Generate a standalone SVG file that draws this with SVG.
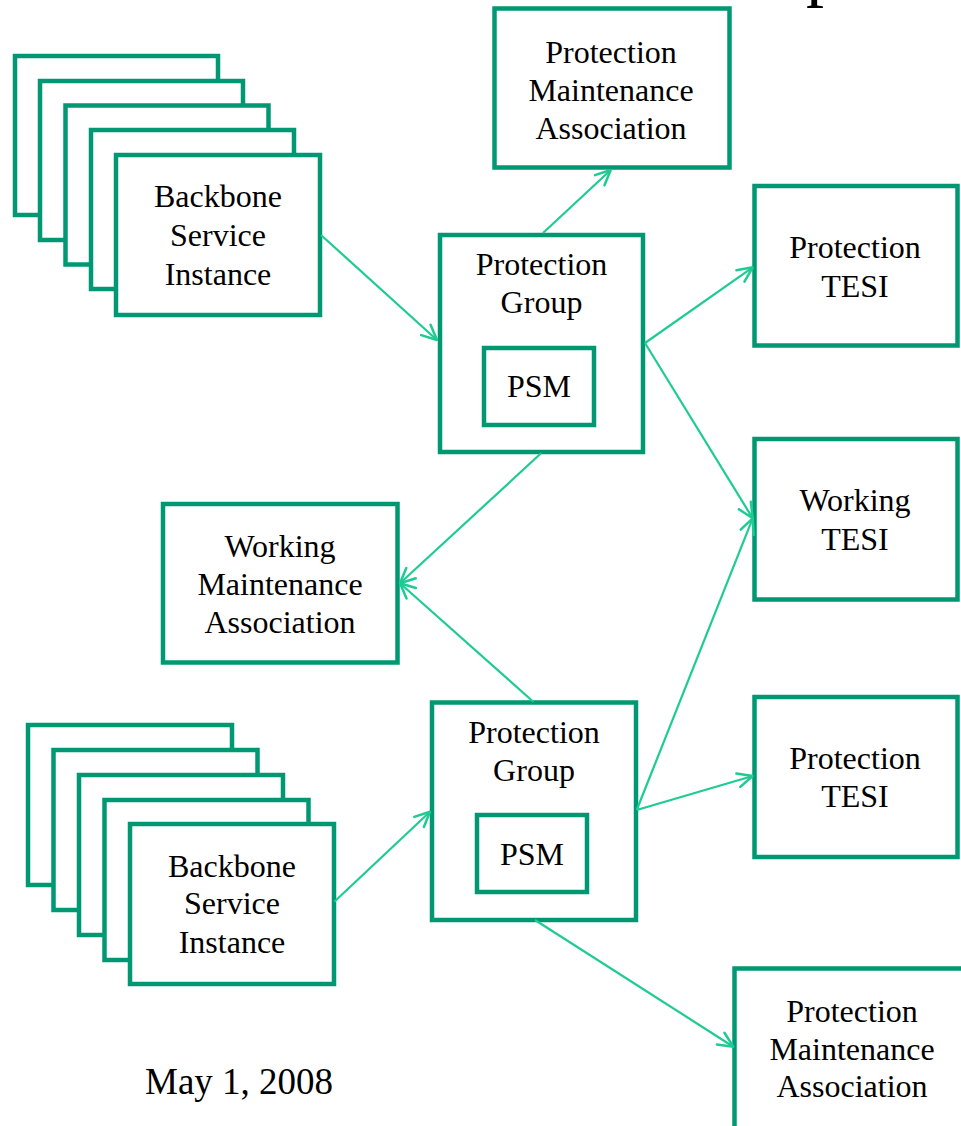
<svg xmlns="http://www.w3.org/2000/svg" width="961" height="1126" viewBox="0 0 961 1126">
<style>
.box{fill:#fff;stroke:#009873;stroke-width:4.5}
.t{font-family:"Liberation Serif","Times New Roman",serif;font-size:32px;fill:#000;text-anchor:middle}
.c{stroke:#1ecb92;stroke-width:2.2;fill:none;marker-end:url(#arr)}
</style>
<defs>
<marker id="arr" markerUnits="userSpaceOnUse" viewBox="0 0 18 18" refX="17" refY="9" markerWidth="18" markerHeight="18" orient="auto">
<path d="M2,2 L17,9 L2,16" fill="none" stroke="#1ecb92" stroke-width="2.5" stroke-linecap="round" stroke-linejoin="round"/>
</marker>
</defs>
<rect width="961" height="1126" fill="#fff"/>
<text x="806" y="-7" font-family="'Liberation Serif','Times New Roman',serif" font-size="72" fill="#000">p</text>

<g id="bsi-top">
<rect class="box" x="15" y="56" width="203" height="159"/>
<rect class="box" x="40" y="81" width="203" height="159"/>
<rect class="box" x="65.5" y="105.5" width="203" height="159"/>
<rect class="box" x="91" y="130" width="203" height="159"/>
<rect class="box" x="116" y="155" width="204" height="160"/>
<text class="t"><tspan x="218" y="207">Backbone</tspan><tspan x="218" y="246">Service</tspan><tspan x="218" y="285">Instance</tspan></text>
</g>

<g id="pma-top">
<rect class="box" x="494.5" y="8.5" width="235" height="159"/>
<text class="t"><tspan x="611" y="63">Protection</tspan><tspan x="611" y="101">Maintenance</tspan><tspan x="611" y="139">Association</tspan></text>
</g>

<g id="pg-top">
<rect class="box" x="440" y="235" width="203" height="217"/>
<text class="t"><tspan x="541.5" y="275">Protection</tspan><tspan x="541.5" y="313">Group</tspan></text>
<g id="psm-top">
<rect class="box" x="484" y="348" width="110" height="77"/>
<text class="t" x="539" y="397">PSM</text>
</g>
</g>

<g id="ptesi-top">
<rect class="box" x="754.5" y="186" width="203" height="159.5"/>
<text class="t"><tspan x="855" y="258">Protection</tspan><tspan x="855" y="297">TESI</tspan></text>
</g>

<g id="wtesi">
<rect class="box" x="754.5" y="439" width="203" height="160.5"/>
<text class="t"><tspan x="855" y="511">Working</tspan><tspan x="855" y="550">TESI</tspan></text>
</g>

<g id="wma">
<rect class="box" x="163" y="504" width="234.5" height="158.5"/>
<text class="t"><tspan x="280" y="557">Working</tspan><tspan x="280" y="595">Maintenance</tspan><tspan x="280" y="633">Association</tspan></text>
</g>

<g id="pg-bottom">
<rect class="box" x="432" y="702.5" width="204" height="217.5"/>
<text class="t"><tspan x="534" y="743">Protection</tspan><tspan x="534" y="781">Group</tspan></text>
<g id="psm-bottom">
<rect class="box" x="477" y="815" width="110" height="77"/>
<text class="t" x="532" y="865">PSM</text>
</g>
</g>

<g id="ptesi-bottom">
<rect class="box" x="754.5" y="697" width="203" height="160"/>
<text class="t"><tspan x="855" y="769">Protection</tspan><tspan x="855" y="807">TESI</tspan></text>
</g>

<g id="bsi-bottom">
<rect class="box" x="28" y="725" width="204" height="160"/>
<rect class="box" x="53.5" y="750" width="204" height="160"/>
<rect class="box" x="79" y="775" width="204" height="160"/>
<rect class="box" x="104.5" y="800" width="204" height="160"/>
<rect class="box" x="130" y="824" width="204" height="160"/>
<text class="t"><tspan x="232" y="877">Backbone</tspan><tspan x="232" y="914">Service</tspan><tspan x="232" y="953">Instance</tspan></text>
</g>

<g id="pma-bottom">
<rect class="box" x="734.5" y="968.5" width="235" height="170"/>
<text class="t"><tspan x="852" y="1022">Protection</tspan><tspan x="852" y="1060">Maintenance</tspan><tspan x="852" y="1097">Association</tspan></text>
</g>

<g id="date">
<text x="145" y="1094" font-family="'Liberation Serif','Times New Roman',serif" font-size="37" fill="#000">May 1, 2008</text>
</g>

<g id="connectors">
<line class="c" x1="321" y1="235" x2="437" y2="340"/>
<line class="c" x1="543" y1="233" x2="610.7" y2="170"/>
<line class="c" x1="645" y1="343" x2="752.7" y2="267.3"/>
<line class="c" x1="645" y1="343" x2="752.7" y2="518.3"/>
<line class="c" x1="541" y1="453.3" x2="400" y2="583.3"/>
<line class="c" x1="533.3" y1="701.7" x2="400" y2="583.3"/>
<line class="c" x1="636.7" y1="810" x2="752.7" y2="518.3"/>
<line class="c" x1="636.7" y1="810" x2="752.7" y2="776"/>
<line class="c" x1="334.3" y1="901.7" x2="430" y2="811.7"/>
<line class="c" x1="535" y1="920" x2="733.3" y2="1046.7"/>
</g>
</svg>
